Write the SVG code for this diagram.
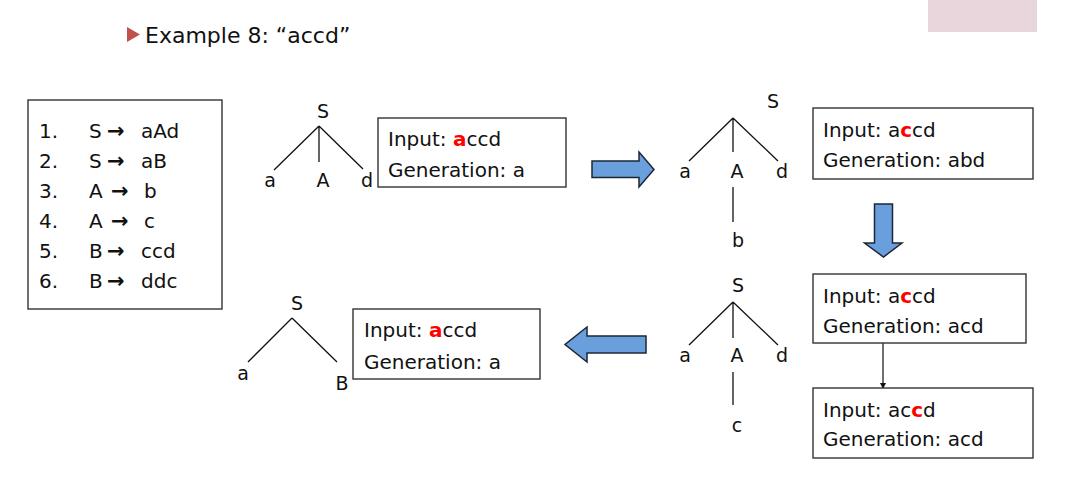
<svg xmlns="http://www.w3.org/2000/svg" width="1070" height="502" viewBox="0 0 1070 502">
<style>
text{font-family:"DejaVu Sans","Liberation Sans",sans-serif;font-size:20px;fill:#111}
.t{font-size:19px}
.mid{text-anchor:middle}
.box{fill:#fff;stroke:#333;stroke-width:1.4}
.edge{stroke:#111;stroke-width:1.3;fill:none}
.blk{fill:#6A9FDE;stroke:#1d2733;stroke-width:1.5;stroke-linejoin:miter}
.r{fill:#FF0000;font-weight:bold}
.arw{font-size:21px;font-weight:bold}
</style>
<defs>
<marker id="ah" markerWidth="8" markerHeight="8" refX="6" refY="4" orient="auto" markerUnits="userSpaceOnUse">
<path d="M1,1 L7,4 L1,7 Z" fill="#111"/>
</marker>
</defs>
<rect width="1070" height="502" fill="#fff"/>
<rect id="corner" x="928" y="0" width="109" height="32" fill="#E8D6DC"/>
<g id="title">
<polygon points="127,27 140,34.5 127,42" fill="#C0504D"/>
<text x="145" y="43" style="font-size:22px">Example 8: “accd”</text>
</g>
<g id="grammar">
<rect class="box" x="28" y="100" width="194" height="209"/>
<text x="39" y="138">1.</text><text x="89" y="138">S</text><text class="arw" x="107" y="138">→</text><text x="141" y="138">aAd</text>
<text x="39" y="168">2.</text><text x="89" y="168">S</text><text class="arw" x="107" y="168">→</text><text x="141" y="168">aB</text>
<text x="39" y="198">3.</text><text x="89" y="198">A</text><text class="arw" x="111" y="198">→</text><text x="144" y="198">b</text>
<text x="39" y="228">4.</text><text x="89" y="228">A</text><text class="arw" x="111" y="228">→</text><text x="144" y="228">c</text>
<text x="39" y="258">5.</text><text x="89" y="258">B</text><text class="arw" x="107" y="258">→</text><text x="141" y="258">ccd</text>
<text x="39" y="288">6.</text><text x="89" y="288">B</text><text class="arw" x="107" y="288">→</text><text x="141" y="288">ddc</text>
</g>
<g id="connectors">
<g id="tree-edges">
<path class="edge" d="M319,126 L274,170 M319,126 L319,162 M319,126 L363,169"/>
<path class="edge" d="M733,118 L689,161 M733,118 L733,152 M733,118 L778,161 M733,187 L733,222"/>
<path class="edge" d="M733,302 L689,345 M733,302 L733,338 M733,302 L778,345 M733,372 L733,405"/>
<path class="edge" d="M292,318 L248,362 M292,318 L337,362"/>
</g>
<polygon id="arrow-right" class="blk" points="592,161 639,161 639,152 654,169.5 639,187 639,177.5 592,177.5"/>
<polygon id="arrow-down" class="blk" points="874.5,204 892.5,204 892.5,243 902,243 883.5,257 864.5,243 874.5,243"/>
<polygon id="arrow-left" class="blk" points="646,336 587,336 587,327 565,344.5 587,362 587,353 646,353"/>
<line id="arrow-thin" x1="883" y1="343" x2="883" y2="388" stroke="#111" stroke-width="1.2" marker-end="url(#ah)"/>
</g>
<g id="tree1">
<text class="t mid" x="323" y="118">S</text>
<text class="t mid" x="270" y="187">a</text>
<text class="t mid" x="323" y="187">A</text>
<text class="t mid" x="367" y="187">d</text>
</g>
<g id="box1">
<rect class="box" x="378" y="118" width="188" height="69"/>
<text x="388" y="146">Input: <tspan class="r">a</tspan>ccd</text>
<text x="388" y="177">Generation: a</text>
</g>
<g id="tree2">
<text class="t mid" x="773" y="108">S</text>
<text class="t mid" x="685" y="178">a</text>
<text class="t mid" x="737" y="178">A</text>
<text class="t mid" x="782" y="178">d</text>
<text class="t mid" x="738" y="247">b</text>
</g>
<g id="box2">
<rect class="box" x="813" y="108" width="220" height="71"/>
<text x="823" y="137">Input: a<tspan class="r">c</tspan>cd</text>
<text x="823" y="167">Generation: abd</text>
</g>
<g id="tree3">
<text class="t mid" x="738" y="292">S</text>
<text class="t mid" x="685" y="362">a</text>
<text class="t mid" x="737" y="362">A</text>
<text class="t mid" x="782" y="362">d</text>
<text class="t mid" x="737" y="432">c</text>
</g>
<g id="box3">
<rect class="box" x="813" y="274" width="213" height="69"/>
<text x="823" y="303">Input: a<tspan class="r">c</tspan>cd</text>
<text x="823" y="333">Generation: acd</text>
</g>
<g id="box4">
<rect class="box" x="813" y="388" width="220" height="70"/>
<text x="823" y="417">Input: ac<tspan class="r">c</tspan>d</text>
<text x="823" y="446">Generation: acd</text>
</g>
<g id="tree4">
<text class="t mid" x="297" y="310">S</text>
<text class="t mid" x="243" y="380">a</text>
<text class="t mid" x="342" y="390">B</text>
</g>
<g id="box5">
<rect class="box" x="353" y="309" width="187" height="70"/>
<text x="364" y="337">Input: <tspan class="r">a</tspan>ccd</text>
<text x="364" y="369">Generation: a</text>
</g>
</svg>
